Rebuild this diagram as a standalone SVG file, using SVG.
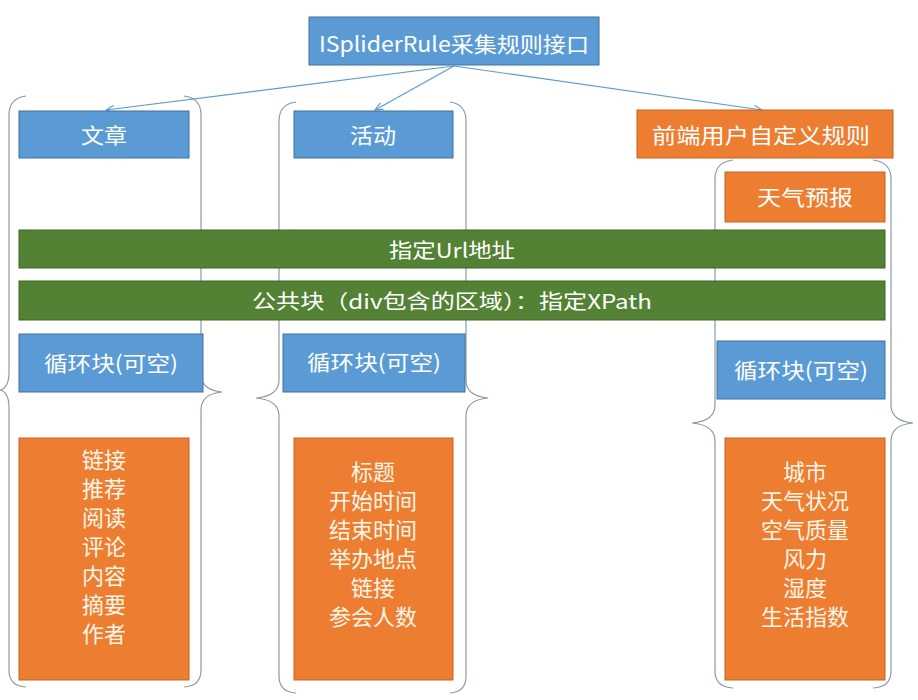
<svg xmlns="http://www.w3.org/2000/svg" width="918" height="700" viewBox="0 0 918 700">
<defs>
<style>
.blue{fill:#5b9bd5;stroke:#41719c;stroke-width:1}
.orange{fill:#ed7d31;stroke:#c8621f;stroke-width:1}
.green{fill:#548235;stroke:#3e6427;stroke-width:1}
.t{font-family:"Noto Sans CJK SC","Noto Sans",sans-serif;fill:#ffffff;text-anchor:middle;dominant-baseline:central}
.lt{font-family:"Noto Sans CJK SC","Noto Sans",sans-serif;fill:#fff6e6;text-anchor:middle;dominant-baseline:central;font-size:22px}
.brace{fill:none;stroke:#8c9aa8;stroke-width:1.2}
.conn{stroke:#5b9bd5;stroke-width:1.2;fill:none}
</style>
<marker id="arr" viewBox="0 0 10 10" refX="9" refY="5" markerWidth="9" markerHeight="9" orient="auto" markerUnits="userSpaceOnUse">
<path d="M0,1 L9,5 L0,9" fill="none" stroke="#5b9bd5" stroke-width="1.3"/>
</marker>
</defs>
<rect width="918" height="700" fill="#ffffff"/>

<g id="braces">
<path class="brace" d="M26,96 Q9,98 9,115 L9,372 Q9,388 0,390 Q9,392 9,408 L9,670 Q9,686 26,687"/>
<path class="brace" d="M184,96 Q201,98 201,115 L201,374 Q201,390 222,392 Q201,394 201,410 L201,670 Q201,686 184,687"/>
<path class="brace" d="M296,102 Q279,104 279,121 L279,380 Q279,396 256,398 Q279,400 279,416 L279,676 Q279,692 296,693"/>
<path class="brace" d="M450,102 Q466,104 466,121 L466,380 Q466,396 488,398 Q466,400 466,416 L466,676 Q466,692 450,693"/>
<path class="brace" d="M733,160 Q715,162 715,179 L715,405 Q715,421 692,423 Q715,425 715,441 L715,671 Q715,687 733,688"/>
<path class="brace" d="M873,160 Q891,162 891,179 L891,405 Q891,421 913,423 Q891,425 891,441 L891,671 Q891,687 873,688"/>
</g>

<g id="connectors">
<line class="conn" x1="454" y1="66" x2="106" y2="110" marker-end="url(#arr)"/>
<line class="conn" x1="454" y1="66" x2="375" y2="110" marker-end="url(#arr)"/>
<line class="conn" x1="454" y1="66" x2="762" y2="110" marker-end="url(#arr)"/>
</g>

<g id="root">
<rect class="blue" x="309" y="17" width="290" height="48"/>
<text class="t" x="454" y="43" font-size="21" textLength="270" lengthAdjust="spacingAndGlyphs">ISpliderRule采集规则接口</text>
</g>

<g id="article">
<rect class="blue" x="19" y="111" width="170" height="47"/>
<text class="t" x="104" y="134" font-size="21" textLength="46" lengthAdjust="spacingAndGlyphs">文章</text>
</g>

<g id="activity">
<rect class="blue" x="294" y="111" width="159" height="47"/>
<text class="t" x="373" y="134" font-size="21" textLength="46" lengthAdjust="spacingAndGlyphs">活动</text>
</g>

<g id="custom">
<rect class="orange" x="637" y="110" width="256" height="48"/>
<text class="t" x="761" y="134" font-size="21" textLength="218" lengthAdjust="spacingAndGlyphs">前端用户自定义规则</text>
</g>

<g id="weather">
<rect class="orange" x="725" y="172" width="160" height="50"/>
<text class="t" x="805" y="196" font-size="21" textLength="96" lengthAdjust="spacingAndGlyphs" fill="#fff6e6">天气预报</text>
</g>

<g id="url">
<rect class="green" x="19" y="230" width="866" height="38"/>
<text class="t" x="452" y="249" font-size="20" textLength="126" lengthAdjust="spacingAndGlyphs">指定Url地址</text>
</g>

<g id="xpath">
<rect class="green" x="19" y="281" width="866" height="39"/>
<text class="t" x="452" y="300" font-size="20" textLength="400" lengthAdjust="spacingAndGlyphs">公共块（div包含的区域）：指定XPath</text>
</g>

<g id="loop1">
<rect class="blue" x="19" y="334" width="184" height="58"/>
<text class="t" x="111" y="362" font-size="21" textLength="134" lengthAdjust="spacingAndGlyphs">循环块(可空)</text>
</g>

<g id="loop2">
<rect class="blue" x="283" y="334" width="182" height="58"/>
<text class="t" x="374" y="361" font-size="21" textLength="134" lengthAdjust="spacingAndGlyphs">循环块(可空)</text>
</g>

<g id="loop3">
<rect class="blue" x="717" y="341" width="168" height="58"/>
<text class="t" x="801" y="369" font-size="21" textLength="134" lengthAdjust="spacingAndGlyphs">循环块(可空)</text>
</g>

<g id="list1">
<rect class="orange" x="19" y="438" width="170" height="242"/>
<text class="lt" x="104" y="458">链接</text>
<text class="lt" x="104" y="487">推荐</text>
<text class="lt" x="104" y="516">阅读</text>
<text class="lt" x="104" y="545">评论</text>
<text class="lt" x="104" y="574">内容</text>
<text class="lt" x="104" y="603">摘要</text>
<text class="lt" x="104" y="632">作者</text>
</g>

<g id="list2">
<rect class="orange" x="294" y="438" width="159" height="242"/>
<text class="lt" x="373" y="470">标题</text>
<text class="lt" x="373" y="499">开始时间</text>
<text class="lt" x="373" y="528">结束时间</text>
<text class="lt" x="373" y="557">举办地点</text>
<text class="lt" x="373" y="586">链接</text>
<text class="lt" x="373" y="615">参会人数</text>
</g>

<g id="list3">
<rect class="orange" x="725" y="438" width="160" height="242"/>
<text class="lt" x="805" y="470">城市</text>
<text class="lt" x="805" y="499">天气状况</text>
<text class="lt" x="805" y="528">空气质量</text>
<text class="lt" x="805" y="557">风力</text>
<text class="lt" x="805" y="586">湿度</text>
<text class="lt" x="805" y="615">生活指数</text>
</g>
</svg>
